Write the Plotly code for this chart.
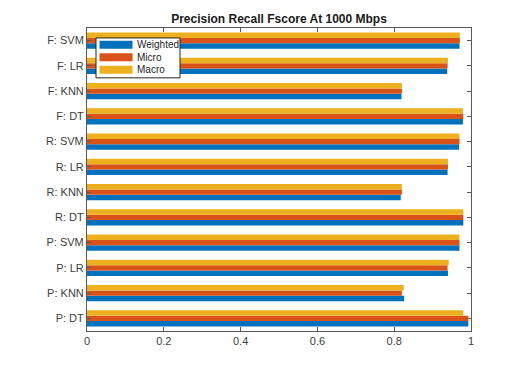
import plotly.graph_objects as go

# categories bottom -> top (as drawn)
categories = ["P: DT", "P: KNN", "P: LR", "P: SVM",
              "R: DT", "R: KNN", "R: LR", "R: SVM",
              "F: DT", "F: KNN", "F: LR", "F: SVM"]

weighted = [0.993, 0.826, 0.940, 0.970,
            0.980, 0.817, 0.939, 0.969,
            0.979, 0.819, 0.938, 0.970]
micro = [0.993, 0.820, 0.939, 0.970,
         0.980, 0.820, 0.940, 0.970,
         0.980, 0.820, 0.939, 0.971]
macro = [0.980, 0.825, 0.942, 0.970,
         0.980, 0.820, 0.940, 0.970,
         0.979, 0.820, 0.940, 0.971]

series_names = ["Weighted", "Micro", "Macro"]
series_colors = ["#0072BD", "#D95319", "#EDB120"]

axis_color = "#5a5a5a"
font_family = "Liberation Sans, Arial, sans-serif"

# figure size / margins (page body adds an 8px offset)
W, H = 518, 358
ML, MT, PW, PH = 79, 19.5, 384, 304


def px_x(px):
    # figure pixel -> paper x
    return (px - ML) / PW


def px_y(py):
    # figure pixel -> paper y
    return 1 - (py - MT) / PH


traces = []
for name, vals, col in zip(series_names, [weighted, micro, macro], series_colors):
    traces.append(go.Bar(
        name=name,
        y=categories,
        x=vals,
        orientation='h',
        marker=dict(color=col, line=dict(width=0)),
    ))

fig = go.Figure(data=traces)

# legend drawn by hand so the swatches are wide and the rows are tight
shapes = [dict(type="rect", xref="paper", yref="paper",
               x0=px_x(88), x1=px_x(172), y0=px_y(29.5), y1=px_y(69.5),
               line=dict(color="#262626", width=1), fillcolor="white", layer="above")]
annotations = []
for i, (name, col) in enumerate(zip(series_names, series_colors)):
    cy = 36.2 + i * 12.6
    shapes.append(dict(type="rect", xref="paper", yref="paper",
                       x0=px_x(91.5), x1=px_x(124.5), y0=px_y(cy - 4), y1=px_y(cy + 4),
                       line=dict(width=0), fillcolor=col, layer="above"))
    annotations.append(dict(text=name, xref="paper", yref="paper",
                            x=px_x(127), y=px_y(cy), xanchor="left", yanchor="middle",
                            showarrow=False, font=dict(size=10, color="#262626")))

fig.update_layout(
    template="none",
    width=W, height=H,
    margin=dict(l=ML, r=W - ML - PW, t=MT, b=H - MT - PH),
    barmode='group',
    bargap=0.35,
    bargroupgap=0,
    showlegend=False,
    plot_bgcolor="white",
    paper_bgcolor="white",
    font=dict(family=font_family, size=11, color="#404040"),
    title=dict(
        text="<b>Precision Recall Fscore At 1000 Mbps</b>",
        x=0.5, xref="paper", xanchor="center",
        y=1 - 10.5 / H, yanchor="middle",
        font=dict(size=12, color="#1a1a1a"),
    ),
    shapes=shapes,
    annotations=annotations,
)
fig.update_xaxes(
    range=[0, 1],
    tickvals=[0, 0.2, 0.4, 0.6, 0.8, 1],
    ticktext=["0", "0.2", "0.4", "0.6", "0.8", "1"],
    showgrid=False, zeroline=False,
    showline=True, linecolor=axis_color, linewidth=1,
    mirror='allticks',
    ticks='inside', ticklen=4, tickcolor=axis_color,
)
fig.update_yaxes(
    type='category',
    categoryorder='array', categoryarray=categories,
    range=[-0.5, 11.5],
    showgrid=False, zeroline=False,
    showline=True, linecolor=axis_color, linewidth=1,
    mirror='allticks',
    ticks='inside', ticklen=4, tickcolor=axis_color,
)

fig.write_html("out.html")
